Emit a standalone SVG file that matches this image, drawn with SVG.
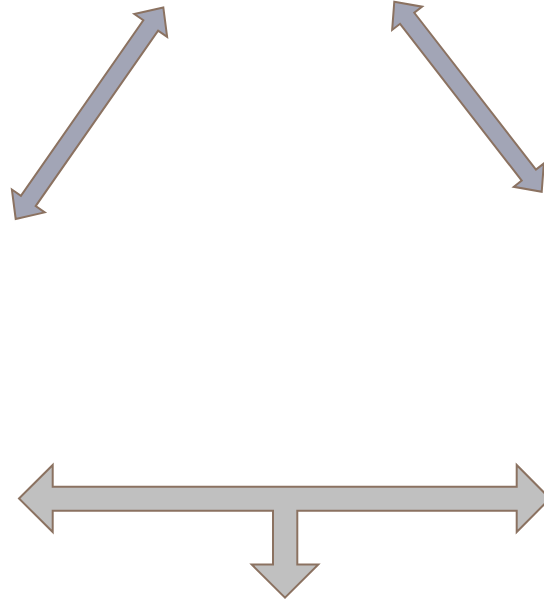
<svg xmlns="http://www.w3.org/2000/svg" width="544" height="601" viewBox="0 0 544 601">
<style>
.a{fill:#A2A5B6;stroke:#8B7261;stroke-width:2;stroke-linejoin:miter}
.b{fill:#C0C0C0;stroke:#8B7261;stroke-width:2;stroke-linejoin:miter}
</style>
<rect width="544" height="601" fill="#FFFFFF"/>
<g id="connectors">
<g id="arrow-left">
<polygon class="a" transform="translate(15.7,219) rotate(-55.1)" points="0,0 22,-20 22,-9 236,-9 236,-20 258,0 236,20 236,9 22,9 22,20"/>
</g>
<g id="arrow-right">
<polygon class="a" transform="translate(394.3,1.7) rotate(52.2)" points="0,0 21,-19 21,-9 219.5,-9 219.5,-19 240.5,0 219.5,19 219.5,9 21,9 21,19"/>
</g>
<g id="arrow-bottom">
<polygon class="b" points="19,498.5 52.7,465 52.7,486.7 516.7,486.7 516.7,465 550,498.5 516.7,532 516.7,510.7 297.3,510.7 297.3,564.5 318.3,564.5 285,597.7 251.7,564.5 273,564.5 273,510.7 52.7,510.7 52.7,532"/>
</g>
</g>
</svg>
